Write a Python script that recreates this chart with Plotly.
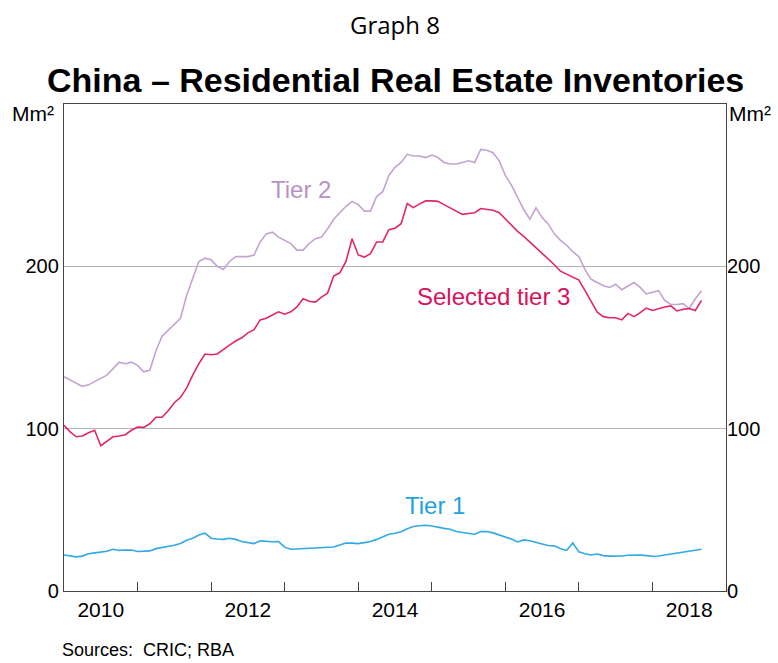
import plotly.graph_objects as go

start_year = 2010
tier2 = [132, 130, 128, 126, 127, 129, 131, 133, 137, 141, 140, 141, 139, 135, 136, 148, 157, 160.5, 164, 168,
         182, 193, 203, 205, 204, 200, 198, 203, 206, 206, 206, 207, 215, 220, 221, 218, 216, 214, 210, 210,
         214, 217, 218, 223, 229, 233, 237, 240, 238, 234, 234, 243, 246, 256, 261, 264, 269, 268, 268, 267,
         268.5, 267, 264, 263, 263, 264, 265, 264, 272, 271.5, 270, 265, 256, 250, 242, 235, 229, 236, 230, 226,
         220, 216, 213, 209, 206, 198, 192, 190, 188, 187, 189, 185.6, 188, 190, 187, 183, 184, 185, 179, 176.5,
         176.5, 177, 174, 180, 185]
tier3 = [102, 98, 95, 95.5, 97.5, 99, 89.5, 92, 95, 95.5, 96.3, 99, 101, 100.8, 103, 107, 107, 111, 116, 119.3,
         125, 133, 140, 146, 145.5, 146, 149, 151.5, 154, 156, 159, 161, 167, 168, 170, 172, 170.5, 172, 175, 180,
         178.5, 178, 181, 183.5, 194, 196, 203, 217, 207, 205.7, 207.8, 215, 215, 222.6, 223.5, 226.3, 238.7, 236.2, 238.5, 240.3,
         240.3, 240, 238, 236, 234, 232, 232.5, 233, 235.6, 235, 234.5, 233, 229, 225, 221.5, 218.5, 215, 212, 208, 205,
         201, 197, 195, 193, 191.5, 185, 178, 171.8, 169, 168.3, 168.3, 167, 171, 169, 171.5, 174.3, 172.8, 174, 175, 175.6,
         172.5, 173.5, 174, 172.8, 179]
tier1 = [22.2, 21.5, 21, 21.5, 23, 23.5, 24, 24.5, 25.7, 25, 25.3, 25.2, 24.3, 24.5, 24.7, 26.1, 26.8, 27.4, 28.2, 29.3,
         31.3, 32.5, 34.5, 35.6, 32.5, 32, 31.8, 32.5, 31.8, 30.5, 29.8, 29.2, 30.9, 30.4, 30.3, 30.4, 27, 25.7, 25.9, 26.1,
         26.2, 26.3, 26.5, 26.8, 27.1, 28.4, 29.6, 29.5, 29.2, 29.8, 30.5, 31.8, 33.3, 35, 35.6, 36.5, 38.3, 39.7, 40.2, 40.5,
         40, 39.1, 38.6, 38, 36.6, 36, 35.5, 35, 36.6, 36.6, 35.8, 34.6, 33.3, 32, 30.2, 31.5, 31, 30.2, 29, 28,
         27.8, 26, 25, 29.6, 24.1, 23, 22.2, 22.8, 21.8, 21.5, 21.4, 21.6, 22, 22.1, 22.2, 21.8, 21.4, 21.6, 22.2, 22.5,
         23, 23.6, 24.3, 25, 25.7]
x_label_years = [2010, 2012, 2014, 2016, 2018]
x_tick_years = [2011, 2012, 2013, 2014, 2015, 2016, 2017, 2018]
y_ticks = [0, 100, 200]

months = [start_year + i / 12 for i in range(len(tier2))]

C2 = "#c4a3d2"
C3 = "#e2266b"
C1 = "#30aae4"
FONT = "Liberation Sans, Arial, sans-serif"

fig = go.Figure()
fig.add_trace(go.Scatter(x=months, y=tier2, mode="lines", line=dict(color=C2, width=1.6), name="Tier 2"))
fig.add_trace(go.Scatter(x=months, y=tier3, mode="lines", line=dict(color=C3, width=1.6), name="Selected tier 3"))
fig.add_trace(go.Scatter(x=months, y=tier1, mode="lines", line=dict(color=C1, width=1.6), name="Tier 1", yaxis="y2"))

ann = [
    dict(text="Graph 8", xref="paper", yref="paper", x=0.5, y=1, yanchor="bottom", yshift=61,
         showarrow=False, font=dict(size=24, family="Open Sans, sans-serif", color="black")),
    dict(text="<b>China – Residential Real Estate Inventories</b>", xref="paper", yref="paper", x=0.5, y=1,
         yanchor="bottom", yshift=3, showarrow=False, font=dict(size=34, family=FONT, color="black")),
    dict(text="Mm²", xref="paper", yref="paper", x=0, y=1, xanchor="right", yanchor="top", xshift=-8, yshift=4,
         showarrow=False, font=dict(size=21, family=FONT)),
    dict(text="Mm²", xref="paper", yref="paper", x=1, y=1, xanchor="left", yanchor="top", xshift=1, yshift=4,
         showarrow=False, font=dict(size=21, family=FONT)),
    dict(text="Tier 2", x=2013.22, y=247.5, xref="x", yref="y", showarrow=False,
         font=dict(size=24, color="#b792c7", family=FONT)),
    dict(text="Selected tier 3", x=2015.84, y=181.5, xref="x", yref="y", showarrow=False,
         font=dict(size=24, color="#d9105c", family=FONT)),
    dict(text="Tier 1", x=2015.05, y=52.5, xref="x", yref="y", showarrow=False,
         font=dict(size=24, color="#1fa3e0", family=FONT)),
    dict(text="Sources:\u00a0\u00a0CRIC; RBA", xref="paper", yref="paper", x=0, y=0, xanchor="left", yanchor="top",
         xshift=-4, yshift=-47, showarrow=False, font=dict(size=18, family=FONT)),
]

fig.update_layout(
    width=778, height=663,
    margin=dict(l=64, r=52, t=104, b=72),
    paper_bgcolor="white", plot_bgcolor="white",
    showlegend=False,
    font=dict(family=FONT, color="black"),
    xaxis=dict(
        range=[2010, 2019],
        tickmode="array",
        tickvals=[y + 0.5 for y in x_label_years],
        ticktext=[str(y) for y in x_label_years],
        ticks="", showgrid=False, zeroline=False,
        showline=True, linecolor="#444", linewidth=1.3, mirror=True,
        tickfont=dict(size=21, family=FONT),
        minor=dict(tickmode="array", tickvals=x_tick_years, ticks="inside", ticklen=9,
                   tickcolor="#444", tickwidth=1.3, showgrid=False),
    ),
    yaxis=dict(
        range=[0, 300], tickmode="array", tickvals=y_ticks,
        ticks="", showgrid=True, gridcolor="#b3b3b3", gridwidth=1.1, zeroline=False,
        showline=True, linecolor="#444", linewidth=1.3, mirror=True,
        tickfont=dict(size=20, family=FONT),
    ),
    yaxis2=dict(
        range=[0, 300], tickmode="array", tickvals=y_ticks, overlaying="y", side="right",
        ticks="", showgrid=False, zeroline=False,
        tickfont=dict(size=20, family=FONT),
    ),
    annotations=ann,
)

fig.write_html("out.html", config={"displayModeBar": False},
               post_script="document.body.style.margin='0';document.body.style.padding='0';")
